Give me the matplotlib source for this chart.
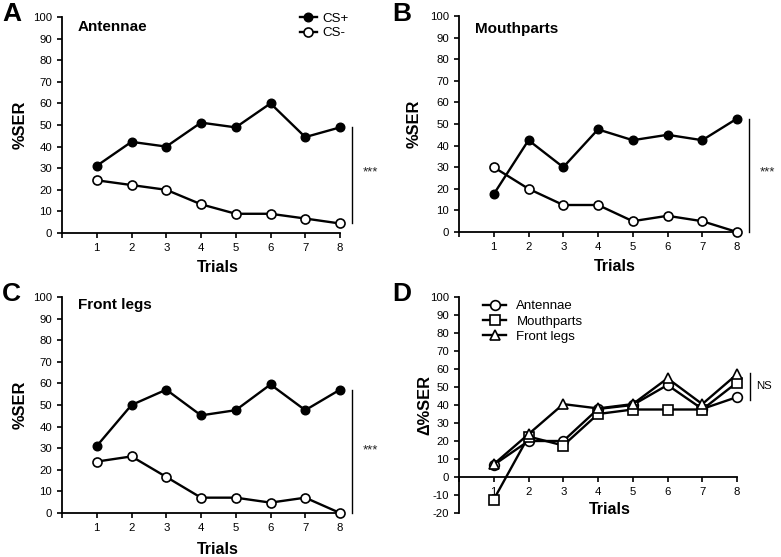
import matplotlib
matplotlib.use("Agg")
import matplotlib.pyplot as plt
import numpy as np

plt.rcParams['font.family'] = ['Liberation Sans', 'DejaVu Sans']
plt.rcParams['axes.unicode_minus'] = False

trials = [1, 2, 3, 4, 5, 6, 7, 8]

ant_csp = [31.1, 42.2, 40.0, 51.1, 48.9, 60.0, 44.4, 48.9]
ant_csm = [24.4, 22.2, 20.0, 13.3, 8.9, 8.9, 6.7, 4.4]

mou_csp = [17.5, 42.5, 30.0, 47.5, 42.5, 45.0, 42.5, 52.5]
mou_csm = [30.0, 20.0, 12.5, 12.5, 5.0, 7.5, 5.0, 0.0]

leg_csp = [31.0, 50.0, 57.1, 45.2, 47.6, 59.5, 47.6, 57.1]
leg_csm = [23.8, 26.2, 16.7, 7.1, 7.1, 4.8, 7.1, 0.0]

delta_ant = [6.7, 20.0, 20.0, 37.8, 40.0, 51.1, 37.8, 44.4]
delta_mou = [-12.5, 22.5, 17.5, 35.0, 37.5, 37.5, 37.5, 52.5]
delta_leg = [7.1, 23.8, 40.5, 38.1, 40.5, 54.8, 40.5, 57.1]

titles = ["Antennae", "Mouthparts", "Front legs"]
letters = ["A", "B", "C", "D"]

W, H = 781, 557
fig = plt.figure(figsize=(W / 100, H / 100), dpi=100)

def frac_rect(left, top, width, height):
    return [left / W, 1 - (top + height) / H, width / W, height / H]

axA = fig.add_axes(frac_rect(62, 17, 278, 216))
axB = fig.add_axes(frac_rect(459, 16, 278, 216))
axC = fig.add_axes(frac_rect(62, 297, 278, 216))
axD = fig.add_axes(frac_rect(459, 297, 278, 216))

LW = 1.7
MS = 6.2
TICKFS = 8.2
LABFS = 11.8

def style(ax, ymin, ymax):
    ax.set_xlim(0, 8)
    ax.set_ylim(ymin, ymax)
    ax.spines['top'].set_visible(False)
    ax.spines['right'].set_visible(False)
    for s in ('left', 'bottom'):
        ax.spines[s].set_linewidth(1.3)
    ax.set_xticks([0] + trials)
    ax.set_xticklabels([''] + [str(t) for t in trials])
    ax.set_yticks(np.arange(ymin, ymax + 1, 10))
    ax.tick_params(axis='both', direction='out', length=3.5, width=1.2,
                   labelsize=TICKFS)
    ax.tick_params(axis='y', pad=3.5)
    ax.tick_params(axis='x', pad=4)
    ax.set_xlabel("Trials", fontsize=LABFS - 0.3, fontweight='bold', va='center')

panels = [(axA, ant_csp, ant_csm), (axB, mou_csp, mou_csm), (axC, leg_csp, leg_csm)]
star_y = [28, 27.5, 29]
title_y = [0.955, 0.94, 0.963]
xlab_y = [-0.162, -0.162, -0.167]
for i, (ax, csp, csm) in enumerate(panels):
    style(ax, 0, 100)
    ax.plot(trials, csp, '-o', color='black', lw=LW, ms=MS, mfc='black',
            mec='black', mew=1.0, clip_on=False, label='CS+', zorder=3)
    ax.plot(trials, csm, '-o', color='black', lw=LW, ms=MS + 0.3, mfc='white',
            mec='black', mew=1.2, clip_on=False, label='CS-', zorder=3)
    ax.set_ylabel("%SER", fontsize=LABFS, fontweight='bold', va='center')
    ax.yaxis.set_label_coords(-0.151 if i != 1 else -0.162, 0.5)
    ax.xaxis.set_label_coords(0.56, xlab_y[i])
    ax.text(0.058, title_y[i], titles[i], transform=ax.transAxes,
            fontsize=11, fontweight='bold', ha='left', va='center')
    ax.plot([8.34, 8.34], [csm[-1], csp[-1]], color='black', lw=1.0, clip_on=False)
    ax.text(8.87, star_y[i], "***", fontsize=9.5, ha='center', va='center',
            color='#222222')

axA.legend(loc='upper left', bbox_to_anchor=(0.855, 1.02), frameon=False,
           fontsize=9.6, handlelength=1.3, handletextpad=0.4, labelspacing=0.15,
           borderaxespad=0, borderpad=0)

# Panel D
style(axD, -20, 100)
axD.spines['bottom'].set_position(('data', 0))
axD.plot(trials, delta_ant, '-o', color='black', lw=LW, ms=7, mfc='white',
         mec='black', mew=1.2, clip_on=False, label='Antennae', zorder=3)
axD.plot(trials, delta_mou, '-s', color='black', lw=LW, ms=7, mfc='white',
         mec='black', mew=1.2, clip_on=False, label='Mouthparts', zorder=3)
axD.plot(trials, delta_leg, '-^', color='black', lw=LW, ms=7.3, mfc='white',
         mec='black', mew=1.2, clip_on=False, label='Front legs', zorder=3)
axD.set_ylabel("Δ%SER", fontsize=LABFS, fontweight='bold', va='center')
axD.yaxis.set_label_coords(-0.122, 0.5)
axD.xaxis.set_label_coords(0.543, 0.014)
axD.plot([8.36, 8.36], [43, 58], color='black', lw=1.0, clip_on=False)
axD.text(8.56, 50.5, "NS", fontsize=8.2, ha='left', va='center')
axD.legend(loc='upper left', bbox_to_anchor=(0.088, 0.985), frameon=False,
           fontsize=9.5, handlelength=1.7, handletextpad=0.8, labelspacing=0.22,
           borderaxespad=0, borderpad=0)

# Panel letters
pos = [(2, 14), (392, 14), (2, 294), (392, 294)]
for (px, py), letter in zip(pos, letters):
    fig.text(px / W, 1 - py / H, letter, fontsize=19, fontweight='bold',
             ha='left', va='center')

fig.savefig("out.png", dpi=100, facecolor='white')
